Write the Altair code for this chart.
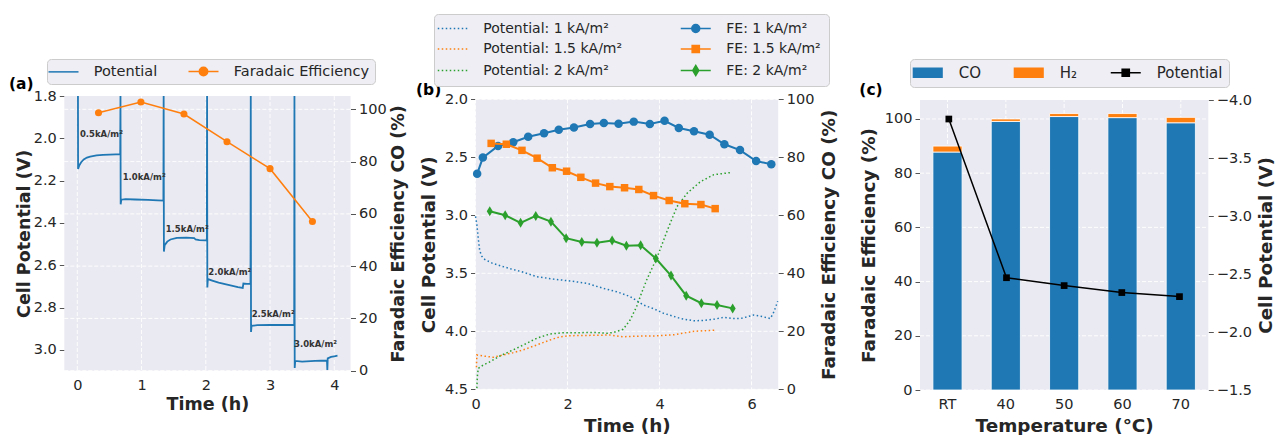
import altair as alt
import pandas as pd

FONT = "DejaVu Sans"
INK = "#262626"
PANEL_BG = "#EAEAF2"
BLUE, ORANGE, GREEN, BLACK = "#1f77b4", "#ff7f0e", "#2ca02c", "#000000"

# ================= DATA =================
# ---- (a) stepped current-density test ----
a_time = [0.010, 0.012, 0.03, 0.06, 0.10, 0.15, 0.20, 0.30, 0.40, 0.50, 0.60, 0.668,
          0.672, 0.675, 0.685, 0.75, 0.90, 1.10, 1.25, 1.340,
          1.344, 1.348, 1.36, 1.40, 1.45, 1.55, 1.70, 1.82, 1.84, 1.90, 2.00, 2.016,
          2.020, 2.024, 2.032, 2.10, 2.20, 2.35, 2.50, 2.575, 2.585, 2.64, 2.696,
          2.700, 2.704, 2.712, 2.80, 3.00, 3.20, 3.376,
          3.380, 3.384, 3.392, 3.50, 3.70, 3.886, 3.892, 3.898, 3.95, 4.00, 4.05]
a_potential = [1.80, 2.145, 2.128, 2.113, 2.100, 2.091, 2.086, 2.081, 2.078, 2.077, 2.076, 2.075,
               1.80, 2.312, 2.290, 2.287, 2.289, 2.291, 2.293, 2.294,
               1.80, 2.535, 2.505, 2.488, 2.478, 2.470, 2.469, 2.471, 2.478, 2.481, 2.482, 2.483,
               1.80, 2.705, 2.665, 2.672, 2.682, 2.692, 2.703, 2.707, 2.686, 2.688, 2.688,
               1.80, 2.915, 2.886, 2.883, 2.882, 2.881, 2.882,
               1.80, 3.085, 3.052, 3.055, 3.052, 3.050, 3.095, 3.040, 3.033, 3.030, 3.027]
a_fe_time = [0.33, 0.99, 1.66, 2.33, 3.00, 3.66]
a_fe = [98.7, 102.8, 98.2, 87.6, 77.3, 57.1]
a_label_text = ["0.5kA/m²", "1.0kA/m²", "1.5kA/m²", "2.0kA/m²", "2.5kA/m²", "3.0kA/m²"]
a_label_time = [0.04, 0.706, 1.376, 2.04, 2.714, 3.373]
a_label_pot = [1.98, 2.181, 2.428, 2.63, 2.83, 2.971]
a_time_ticks = [0, 1, 2, 3, 4]
a_pot_ticks = [1.8, 2.0, 2.2, 2.4, 2.6, 2.8, 3.0]
a_fe_ticks = [0, 20, 40, 60, 80, 100]
a_time_lim = [-0.2025, 4.2525]
a_pot_lim = [1.8, 3.098]
a_fe_lim = [0, 105.1]

# ---- (b) long-term runs ----
b_pot1_time = [0.00, 0.03, 0.06, 0.09, 0.13, 0.20, 0.35, 0.50, 0.75, 1.00, 1.33, 1.69, 2.05, 2.42,
               2.78, 3.07, 3.36, 3.65, 3.90, 4.09, 4.30, 4.46, 4.75, 5.00, 5.20, 5.40, 5.60, 5.76,
               6.05, 6.20, 6.41, 6.49, 6.57]
b_pot1 = [3.01, 3.08, 3.20, 3.30, 3.35, 3.38, 3.41, 3.43, 3.46, 3.486, 3.529, 3.55, 3.566, 3.586,
          3.63, 3.659, 3.70, 3.773, 3.81, 3.845, 3.87, 3.89, 3.91, 3.905, 3.895, 3.88, 3.89, 3.89,
          3.86, 3.87, 3.89, 3.83, 3.74]
b_pot15_time = [0.02, 0.03, 0.17, 0.39, 0.60, 0.82, 1.04, 1.33, 1.62, 1.84, 2.05, 2.49, 2.92,
                3.21, 3.65, 3.88, 4.31, 4.75, 5.21]
b_pot15 = [4.31, 4.204, 4.213, 4.224, 4.204, 4.184, 4.16, 4.118, 4.075, 4.047, 4.038, 4.035, 4.032,
           4.047, 4.04, 4.04, 4.03, 4.00, 3.99]
b_pot2_time = [0.03, 0.04, 0.06, 0.17, 0.32, 0.53, 0.82, 1.04, 1.33, 1.62, 1.91, 2.27, 2.56, 2.85,
               3.00, 3.21, 3.36, 3.50, 3.61, 3.72, 3.95, 4.17, 4.38, 4.60, 4.89, 5.18, 5.58]
b_pot2 = [4.49, 4.39, 4.32, 4.29, 4.262, 4.213, 4.16, 4.118, 4.06, 4.023, 4.012, 4.012, 4.009, 4.017,
          4.01, 3.983, 3.903, 3.79, 3.67, 3.558, 3.36, 3.13, 2.925, 2.81, 2.71, 2.65, 2.63]
b_fe1_time = [0.036, 0.16, 0.49, 0.82, 1.145, 1.49, 1.81, 2.14, 2.49, 2.79, 3.11, 3.44, 3.79, 4.11,
              4.42, 4.75, 5.09, 5.41, 5.75, 6.10, 6.43]
b_fe1 = [74.3, 79.9, 83.9, 85.2, 87.1, 88.3, 89.5, 90.3, 91.5, 91.8, 91.6, 92.3, 91.5, 92.6,
         90.1, 89.0, 87.8, 84.5, 82.5, 78.7, 77.6]
b_fe15_time = [0.34, 0.67, 1.01, 1.34, 1.67, 1.98, 2.29, 2.61, 2.92, 3.24, 3.55, 3.87, 4.21, 4.55,
               4.90, 5.21]
b_fe15 = [84.8, 84.5, 82.4, 79.7, 76.4, 75.2, 73.1, 71.1, 69.9, 69.5, 68.9, 66.8, 65.1, 64.0,
          63.7, 62.3]
b_fe2_time = [0.31, 0.645, 0.98, 1.31, 1.64, 1.97, 2.31, 2.64, 2.97, 3.28, 3.59, 3.92, 4.25, 4.58,
              4.91, 5.25, 5.59]
b_fe2 = [61.4, 60.0, 57.4, 59.8, 57.8, 52.1, 50.8, 50.5, 51.3, 49.5, 49.7, 45.1, 39.2, 32.3,
         29.7, 29.1, 27.9]
b_time_ticks = [0, 2, 4, 6]
b_pot_ticks = [2.0, 2.5, 3.0, 3.5, 4.0, 4.5]
b_fe_ticks = [0, 20, 40, 60, 80, 100]
b_time_lim = [0, 6.58]
b_pot_lim = [2.0, 4.5]
b_fe_lim = [0, 100]

# ---- (c) temperature series ----
c_temp = ["RT", "40", "50", "60", "70"]
c_co = [87.8, 99.1, 100.9, 100.5, 98.6]
c_h2 = [2.2, 0.9, 1.1, 1.5, 2.0]
c_pot = [-3.836, -2.468, -2.40, -2.34, -2.305]
c_fe_ticks = [0, 20, 40, 60, 80, 100]
c_pot_ticks = [-4.0, -3.5, -3.0, -2.5, -2.0, -1.5]
c_fe_lim = [0, 107]
c_pot_lim = [-4.0, -1.5]
c_frac_lim = [0, 1]

# ================= LAYOUT (pixels) =================
W, H = 1275, 435
A_X, A_Y = [64.3, 350.5], [96, 370.7]
B_X, B_Y = [475.5, 778.2], [99.3, 389.3]
C_X, C_Y = [920, 1208.3], [100, 390]


def lin(dom, rng):
    return alt.Scale(domain=dom, range=rng, nice=False, zero=False)


sa_x, sa_pot, sa_fe = lin(a_time_lim, A_X), lin(a_pot_lim, A_Y), lin(a_fe_lim, A_Y[::-1])
sb_x, sb_pot, sb_fe = lin(b_time_lim, B_X), lin(b_pot_lim, B_Y), lin(b_fe_lim, B_Y[::-1])
sc_x = alt.Scale(domain=c_temp, range=C_X, paddingInner=0.5, paddingOuter=0.2213)
sc_frac = lin(c_frac_lim, C_X)
sc_fe, sc_pot = lin(c_fe_lim, C_Y[::-1]), lin(c_pot_lim, C_Y)


def yaxis(side, px, title, values, fmt, title_dx, title_size):
    return alt.Axis(orient=side, offset=(-px if side == "left" else px - W), title=title,
                    values=values, format=fmt, domain=False, grid=False,
                    labelFont=FONT, labelFontSize=14.5, labelColor=INK, labelPadding=3,
                    labelOverlap=False, labelFlush=False,
                    ticks=True, tickSize=5, tickColor="#555555", tickWidth=1,
                    titleFont=FONT, titleFontSize=title_size, titleFontWeight="bold",
                    titleColor=INK, titleAngle=270, titleX=title_dx, titleBaseline="middle",
                    titleAlign="center")


def xaxis(py, title, values, title_dy, title_size, fmt=None, label_dy=14.3):
    kw = dict(orient="bottom", offset=py - H, title=title, values=values, domain=False,
              grid=False, labelFont=FONT, labelFontSize=14.5, labelColor=INK,
              labelBaseline="middle", labelPadding=label_dy, labelOverlap=False,
              labelFlush=False, labelAngle=0, ticks=False,
              titleFont=FONT, titleFontSize=title_size, titleFontWeight="bold", titleColor=INK,
              titleY=title_dy, titleBaseline="middle", titleAlign="center")
    if fmt:
        kw["format"] = fmt
    return alt.Axis(**kw)


GRID = dict(color="white", strokeWidth=0.9, strokeDash=[4, 2])


def panel_bg(xs, ys, xlim, ylim):
    df = pd.DataFrame({"x0": [xlim[0]], "x1": [xlim[1]], "y0": [ylim[0]], "y1": [ylim[1]]})
    return alt.Chart(df).mark_rect(color=PANEL_BG).encode(
        x=alt.X("x0:Q", scale=xs, axis=None), x2="x1:Q",
        y=alt.Y("y0:Q", scale=ys, axis=None), y2="y1:Q")


def vgrid(values, xs, ys, ylim, xtype="Q"):
    df = pd.DataFrame({"v": values, "lo": ylim[0], "hi": ylim[1]})
    return alt.Chart(df).mark_rule(**GRID).encode(
        x=alt.X(f"v:{xtype}", scale=xs, axis=None),
        y=alt.Y("lo:Q", scale=ys, axis=None), y2="hi:Q")


def hgrid(values, ys, xs, xlim):
    df = pd.DataFrame({"v": values, "lo": xlim[0], "hi": xlim[1]})
    return alt.Chart(df).mark_rule(**GRID).encode(
        y=alt.Y("v:Q", scale=ys, axis=None),
        x=alt.X("lo:Q", scale=xs, axis=None), x2="hi:Q")


def tag(text, xv, yv, xs, ys):
    df = pd.DataFrame({"t": [text], "x": [xv], "y": [yv]})
    return alt.Chart(df).mark_text(font=FONT, fontSize=15.5, fontWeight="bold", color="black",
                                   align="center", baseline="middle").encode(
        x=alt.X("x:Q", scale=xs, axis=None), y=alt.Y("y:Q", scale=ys, axis=None), text="t:N")


# legend symbol paths: symbolSize 64 -> 4 px per path unit
SYM_SIZE = 64
U = 4.0


def px(v):
    return round(v / U, 4)


def dotted(half=15, dash=1.5, gap=2.5):
    parts, x = [], -half
    while x < half:
        x2 = min(x + dash, half)
        parts.append(f"M{px(x)},0H{px(x2)}")
        x = x2 + gap
    return "".join(parts)


def circ(r):
    r = px(r)
    return f"M{-r},0A{r},{r} 0 1,0 {r},0A{r},{r} 0 1,0 {-r},0Z"


def sq(h):
    h = px(h)
    return f"M{-h},{-h}H{h}V{h}H{-h}Z"


LINE = f"M{px(-15)},0H{px(15)}"
DOT = dotted()
PATCH = f"M{px(-14.3)},{px(-4.5)}H{px(14.3)}V{px(4.5)}H{px(-14.3)}Z"
THIN_D = f"M0,{px(-5)}L{px(3)},0L0,{px(5)}L{px(-3)},0Z"


def legend_layer(names, colors, shapes, lx, ly, columns, label_offset, col_pad, fsize,
                 row_pad=6, pad=5, sym_off=4.25):
    leg = alt.Legend(title=None, orient="none", legendX=lx, legendY=ly, columns=columns,
                     symbolSize=SYM_SIZE, symbolStrokeWidth=1.5, symbolOpacity=1,
                     symbolOffset=sym_off,
                     labelFont=FONT, labelFontSize=fsize, labelColor=INK,
                     labelOffset=label_offset, labelLimit=400, columnPadding=col_pad,
                     rowPadding=row_pad, padding=pad, fillColor="#EEEEF4",
                     strokeColor="#CCCCCC", cornerRadius=4)
    df = pd.DataFrame({"s": names})
    return alt.Chart(df).transform_filter("false").mark_point(filled=True, opacity=1).encode(
        fill=alt.Fill("s:N", scale=alt.Scale(domain=names, range=colors), legend=leg),
        stroke=alt.Stroke("s:N", scale=alt.Scale(domain=names, range=colors), legend=leg),
        shape=alt.Shape("s:N", scale=alt.Scale(domain=names, range=shapes), legend=leg))


# ================= PANEL (a) =================
df_a = pd.DataFrame({"t": a_time, "v": a_potential, "i": range(len(a_time))})
df_a_fe = pd.DataFrame({"t": a_fe_time, "fe": a_fe})
df_a_lab = pd.DataFrame({"s": a_label_text, "t": a_label_time, "v": a_label_pot})

a_layers = [
    panel_bg(sa_x, sa_pot, a_time_lim, a_pot_lim),
    vgrid(a_time_ticks, sa_x, sa_pot, a_pot_lim),
    hgrid(a_fe_ticks, sa_fe, sa_x, a_time_lim),
    alt.Chart(df_a).mark_line(color=BLUE, strokeWidth=1.8).encode(
        x=alt.X("t:Q", scale=sa_x,
                axis=xaxis(A_Y[1], "Time (h)", a_time_ticks, 33.3, 17.5, fmt="d", label_dy=14.3)),
        y=alt.Y("v:Q", scale=sa_pot,
                axis=yaxis("left", A_X[0], "Cell Potential (V)", a_pot_ticks, ".1f", -40, 17.5)),
        order=alt.Order("i:Q")),
    alt.Chart(df_a_fe).mark_line(color=ORANGE, strokeWidth=1.5,
                                 point=alt.OverlayMarkDef(filled=True, size=50, color=ORANGE,
                                                          opacity=1)).encode(
        x=alt.X("t:Q", scale=sa_x, axis=None),
        y=alt.Y("fe:Q", scale=sa_fe,
                axis=yaxis("right", A_X[1], "Faradaic Efficiency CO (%)", a_fe_ticks, "d",
                           47.5, 17.5))),
    alt.Chart(df_a_lab).mark_text(font=FONT, fontSize=8.5, fontWeight="bold", color="#333333",
                                  align="left", baseline="middle").encode(
        x=alt.X("t:Q", scale=sa_x, axis=None), y=alt.Y("v:Q", scale=sa_pot, axis=None),
        text="s:N"),
    tag("(a)", -0.872, 1.743, sa_x, sa_pot),
    legend_layer(["Potential", "Faradaic Efficiency"], [BLUE, ORANGE],
                 [LINE, LINE + circ(4.2)], 47, 59, 2, 23, 27, 14.5, pad=5),
]

# ================= PANEL (b) =================
def bline(tt, vv, color, scale):
    df = pd.DataFrame({"t": tt, "v": vv})
    return alt.Chart(df).mark_line(color=color, strokeWidth=1.5, strokeDash=[1.5, 2.5]).encode(
        x=alt.X("t:Q", scale=sb_x, axis=None), y=alt.Y("v:Q", scale=scale, axis=None))


def bfe(tt, vv, color, shape, size, axis=None):
    df = pd.DataFrame({"t": tt, "fe": vv})
    return alt.Chart(df).mark_line(color=color, strokeWidth=2,
                                   point=alt.OverlayMarkDef(filled=True, shape=shape, size=size,
                                                            color=color, opacity=1)).encode(
        x=alt.X("t:Q", scale=sb_x, axis=None), y=alt.Y("fe:Q", scale=sb_fe, axis=axis))


df_b_axis = pd.DataFrame({"t": b_time_lim, "v": b_pot_lim})
b_layers = [
    panel_bg(sb_x, sb_pot, b_time_lim, b_pot_lim),
    vgrid(b_time_ticks, sb_x, sb_pot, b_pot_lim),
    hgrid(b_pot_ticks, sb_pot, sb_x, b_time_lim),
    alt.Chart(df_b_axis).mark_point(opacity=0).encode(
        x=alt.X("t:Q", scale=sb_x,
                axis=xaxis(B_Y[1], "Time (h)", b_time_ticks, 35.7, 18.4, fmt="d", label_dy=14.7)),
        y=alt.Y("v:Q", scale=sb_pot,
                axis=yaxis("left", B_X[0], "Cell Potential (V)", b_pot_ticks, ".1f", -47.5, 18.4))),
    bline(b_pot1_time, b_pot1, BLUE, sb_pot),
    bline(b_pot15_time, b_pot15, ORANGE, sb_pot),
    bline(b_pot2_time, b_pot2, GREEN, sb_pot),
    bfe(b_fe1_time, b_fe1, BLUE, "circle", 72,
        axis=yaxis("right", B_X[1], "Faradaic Efficiency CO (%)", b_fe_ticks, "d", 49.8, 18.4)),
    bfe(b_fe15_time, b_fe15, ORANGE, "square", 56),
    bfe(b_fe2_time, b_fe2, GREEN, "M0,-1L0.6,0L0,1L-0.6,0Z", 100),
    tag("(b)", -1.02, 1.92, sb_x, sb_pot),
    # legend entries fill column by column
    legend_layer(["Potential: 1 kA/m²", "Potential: 1.5 kA/m²", "Potential: 2 kA/m²",
                  "FE: 1 kA/m²", "FE: 1.5 kA/m²", "FE: 2 kA/m²"],
                 [BLUE, ORANGE, GREEN, BLUE, ORANGE, GREEN],
                 [DOT, DOT, DOT, LINE + circ(4), LINE + sq(3.6), LINE + THIN_D],
                 434, 14, 2, 23.5, 55, 14.0, row_pad=6.5, pad=7.5),
]

# ================= PANEL (c) =================
df_c = pd.DataFrame({"temp": c_temp, "co": c_co, "h2": c_h2, "pot": c_pot})
c_layers = [
    panel_bg(sc_frac, sc_fe, c_frac_lim, c_fe_lim),
    vgrid(c_temp, sc_x, sc_fe, c_fe_lim, xtype="N"),
    hgrid(c_fe_ticks, sc_fe, sc_frac, c_frac_lim),
    alt.Chart(df_c).mark_bar(color=BLUE, stroke="white", strokeWidth=0.8).encode(
        x=alt.X("temp:N", scale=sc_x, sort=None,
                axis=xaxis(C_Y[1], "Temperature (°C)", c_temp, 35, 18.4, label_dy=14)),
        y=alt.Y("co:Q", scale=sc_fe,
                axis=yaxis("left", C_X[0], "Faradaic Efficiency (%)", c_fe_ticks, "d", -52, 18.4))),
    alt.Chart(df_c).transform_calculate(top="datum.co + datum.h2").mark_bar(
        color=ORANGE, stroke="white", strokeWidth=0.8).encode(
        x=alt.X("temp:N", scale=sc_x, sort=None, axis=None),
        y=alt.Y("top:Q", scale=sc_fe, axis=None), y2="co:Q"),
    alt.Chart(df_c).mark_line(color=BLACK, strokeWidth=1.5,
                              point=alt.OverlayMarkDef(filled=True, shape="square", size=45,
                                                       color=BLACK, opacity=1)).encode(
        x=alt.X("temp:N", scale=sc_x, sort=None, axis=None),
        y=alt.Y("pot:Q", scale=sc_pot,
                axis=yaxis("right", C_X[1], "Cell Potential (V)", c_pot_ticks, ".1f", 57.5, 18.4))),
    tag("(c)", -0.17, 110.7, sc_frac, sc_fe),
    legend_layer(["CO", "H₂", "Potential"], [BLUE, ORANGE, BLACK],
                 [PATCH, PATCH, LINE + sq(3.6)], 910, 59, 3, 23.5, 29, 15.0, pad=6),
]

chart = alt.layer(*(a_layers + b_layers + c_layers)).resolve_scale(
    x="independent", y="independent", fill="independent", stroke="independent",
    shape="independent"
).properties(
    width=W, height=H, padding=0, background="white",
    autosize=alt.AutoSizeParams(type="none"),
).configure_view(strokeWidth=0)

chart.save("out.html", embed_options={"renderer": "svg", "actions": False})
